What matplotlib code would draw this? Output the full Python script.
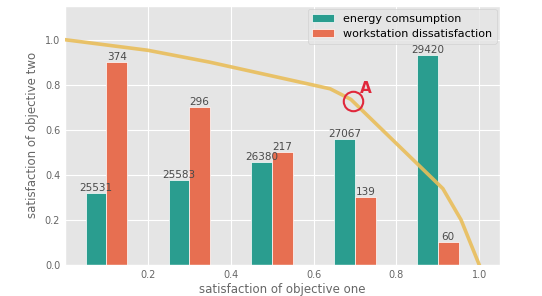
import numpy as np
import matplotlib
matplotlib.use("Agg")
import matplotlib.pyplot as plt

plt.style.use("ggplot")

# bar groups
groups = [0.1, 0.3, 0.5, 0.7, 0.9]
energy = [0.32, 0.375, 0.455, 0.56, 0.93]
energy_labels = ["25531", "25583", "26380", "27067", "29420"]
dissat = [0.9, 0.7, 0.5, 0.3, 0.1]
dissat_labels = ["374", "296", "217", "139", "60"]

# pareto front
front_x = [0.0, 0.2, 0.35, 0.64, 0.69, 0.912, 0.956, 1.0]
front_y = [1.0, 0.953, 0.9, 0.782, 0.735, 0.339, 0.2, 0.0]

point_a = (0.694, 0.73)

fig = plt.figure(figsize=(5.42, 2.96), dpi=100)
ax = fig.add_axes([0.12, 0.105, 0.8025, 0.875])

w = 0.05
gx = np.array(groups)
b1 = ax.bar(gx - w / 2, energy, w, color="#2a9d8f", edgecolor="white",
            linewidth=0.5, label="energy comsumption", zorder=2)
b2 = ax.bar(gx + w / 2, dissat, w, color="#e76f51", edgecolor="white",
            linewidth=0.5, label="workstation dissatisfaction", zorder=2)

for bars, labels in ((b1, energy_labels), (b2, dissat_labels)):
    for r, t in zip(bars, labels):
        ax.text(r.get_x() + r.get_width() / 2, r.get_height(), t,
                ha="center", va="bottom", fontsize=7.5, color="#4a4a4a")

ax.plot(front_x, front_y, color="#e9be5a", lw=2.6, alpha=0.9, zorder=3)
ax.plot(*point_a, "o", ms=14, mfc="none", mec="#e0283c", mew=1.5, zorder=4)
ax.text(point_a[0] + 0.018, point_a[1] + 0.035, "A", color="#e0283c",
        fontsize=11, fontweight="bold")

ax.set_xlim(0, 1.05)
ax.set_ylim(0, 1.15)
ax.set_xticks([0.2, 0.4, 0.6, 0.8, 1.0])
ax.set_yticks([0.0, 0.2, 0.4, 0.6, 0.8, 1.0])
ax.tick_params(labelsize=7, colors="#666666", length=0)
ax.set_xlabel("satisfaction of objective one", fontsize=8.5, color="#666666", labelpad=2)
ax.set_ylabel("satisfaction of objective two", fontsize=8.5, color="#666666", labelpad=4)

ax.legend(loc="upper right", fontsize=8, borderaxespad=0.3, handlelength=2)

fig.savefig("out.png", dpi=100)
